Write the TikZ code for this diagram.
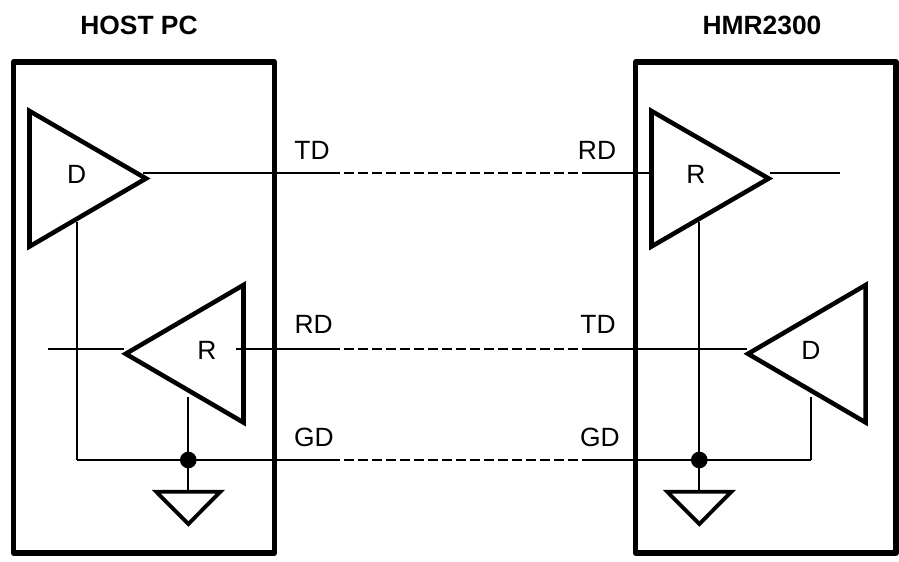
\documentclass[tikz,border=0pt]{standalone}
\usepackage{fontspec}
\setmainfont{Liberation Sans}
\usetikzlibrary{positioning}
\usetikzlibrary{calc}

\tikzset{
  boxline/.style={line width=3.8pt, line join=round},
  triline/.style={line width=3.4pt},
  gndline/.style={line width=2.9pt},
  wire/.style={line width=1.6pt},
  dashwire/.style={line width=1.6pt, dash pattern=on 7.5pt off 3pt, dash phase=-3pt},
  junction/.style={circle, fill=black, inner sep=0pt, minimum size=12.5pt},
  lbl/.style={font=\fontsize{19.8pt}{22pt}\selectfont, inner sep=0pt},
  title/.style={font=\fontsize{19.8pt}{22pt}\selectfont\bfseries, inner sep=0pt}
}

\begin{document}
\begin{tikzpicture}[x=0.75pt, y=-0.75pt]

    \useasboundingbox (0,0) rectangle (899,561);

    %boxes
    \foreach \xa/\xb in {13.5/274.5, 635.7/896}{
        \draw[boxline] (\xa,62) rectangle (\xb,553);
    }

    %wire points
    \foreach \x/\y/\name in {143/173/tdA, 340/173/tdB, 583/173/tdC, 651/173/tdD,
                             48/349/rxA, 124/349/rxB, 236/349/rdA, 340/349/rdB, 583/349/rdC, 747/349/rdD,
                             77/460/gdA, 340/460/gdB, 583/460/gdC, 811/460/gdD,
                             77/222/dropA, 188/397/dropB, 811/397/dropC, 699/222/dropD,
                             770/173/outA, 840/173/outB}{
        \coordinate (\name) at (\x,\y);
    }

    %triangles, tip first
    \foreach \tip/\base/\top/\mid/\bot/\name in {146/29.5/111/178.5/246.5/triD, 768.7/651.5/111/178.5/246.5/triR,
                                                 125.7/243.5/285/353.8/422.5/triRx, 748/865.7/285/353.8/422.5/triDx}{
        \draw[triline] (\tip,\mid) coordinate (\name) -- (\base,\top) -- (\base,\bot) -- cycle;
    }

    %grounds
    \foreach \x/\name in {188.3/A, 699.3/B}{
        \node[junction] (dot\name) at (\x,460) {};
        \coordinate (gnd\name) at (\x,491.8);
        \draw[gndline] (\x-32,491.8) -- (\x+32,491.8) -- (\x,524) -- cycle;
    }

    %solid parts
    \draw[wire] (tdA) -- (tdB);
    \draw[wire] (tdC) -- (tdD);
    \draw[wire] (rxA) -- (rxB);
    \draw[wire] (rdA) -- (rdB);
    \draw[wire] (rdC) -- (rdD);
    \draw[wire] (gdA) -- (gdB);
    \draw[wire] (gdC) -- (gdD);
    \draw[wire] (dropA) -- (gdA);
    \draw[wire] (dropC) -- (gdD);
    \draw[wire] (outA) -- (outB);
    \draw[line width=2.1pt] (dropB) -- (dropB |- gndA);
    \draw[line width=2.1pt] (dropD) -- (dropD |- gndB);

    %dashed parts
    \draw[dashwire] (tdB) -- (tdC);
    \draw[dashwire] (rdB) -- (rdC);
    \draw[dashwire] (gdB) -- (gdC);

    %labels
    \foreach \x/\y/\txt/\name in {312/150/TD/lblA, 597/150/RD/lblB, 76.7/174/D/lblC, 696/174/R/lblD,
                                  207/350/R/lblE, 811/350/D/lblF, 313.7/324/RD/lblG, 598/324/TD/lblH,
                                  314/437/GD/lblI, 600/437/GD/lblJ}{
        \node[lbl] (\name) at (\x,\y) {\txt};
    }
    \node[title] (host) at (139,25) {HOST PC};
    \node[title] (hmr) at (762,25) {HMR2300};

\end{tikzpicture}
\end{document}
